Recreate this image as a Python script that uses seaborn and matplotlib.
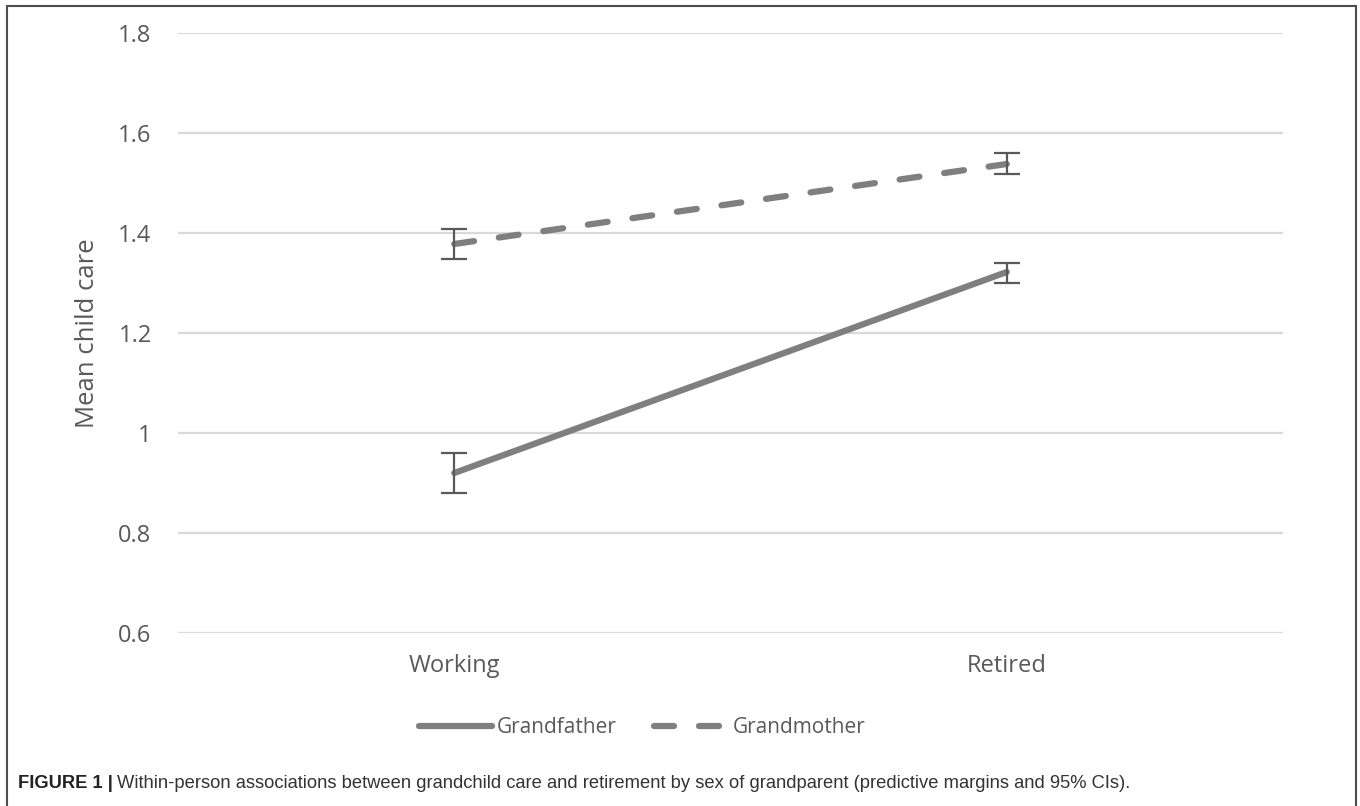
import numpy as np
import pandas as pd
import seaborn as sns
import matplotlib.pyplot as plt
from matplotlib.patches import Rectangle

# values
status = ['Working', 'Retired']
sexes = ['Grandfather', 'Grandmother']
gf_mean = [0.92, 1.322]
gf_lo = [0.88, 1.30]
gf_hi = [0.96, 1.34]
gm_mean = [1.378, 1.538]
gm_lo = [1.348, 1.518]
gm_hi = [1.408, 1.56]
y_ticks = [0.6, 0.8, 1.0, 1.2, 1.4, 1.6, 1.8]

caption_bold = 'FIGURE 1 |'
caption_text = ('Within-person associations between grandchild care and retirement by sex of '
                'grandparent (predictive margins and 95% CIs).')

df = pd.DataFrame({
    'status': status * 2,
    'sex': [sexes[0]] * 2 + [sexes[1]] * 2,
    'care': gf_mean + gm_mean,
    'lo': gf_lo + gm_lo,
    'hi': gf_hi + gm_hi,
})

sns.set_theme(style='white')
plt.rcParams['font.family'] = ['Open Sans', 'DejaVu Sans']
plt.rcParams['lines.dash_capstyle'] = 'round'
plt.rcParams['lines.solid_capstyle'] = 'round'

text_grey = '#595959'
line_grey = '#7f7f7f'

fig = plt.figure(figsize=(13.6, 8.06), dpi=100)
ax = fig.add_axes([178 / 1360, 173 / 806, 1105 / 1360, 600 / 806])

sns.lineplot(data=df, x='status', y='care', hue='sex', style='sex',
             palette={sexes[0]: line_grey, sexes[1]: line_grey},
             dashes={sexes[0]: '', sexes[1]: (3.2, 4.0)},
             linewidth=4.5, ax=ax, legend=True, sort=False)

handles, labels = ax.get_legend_handles_labels()
ax.get_legend().remove()

# confidence intervals
for _, row in df.iterrows():
    err = [[row['care'] - row['lo']], [row['hi'] - row['care']]]
    ax.errorbar([row['status']], [row['care']], yerr=err, fmt='none',
                ecolor=text_grey, elinewidth=1.6, capsize=9.5, capthick=1.6, zorder=3)

ax.set_xlim(-0.5, 1.5)
ax.set_ylim(0.6, 1.8)
ax.set_yticks(y_ticks)
ax.yaxis.set_major_formatter(plt.FuncFormatter(lambda v, _: f'{v:g}'))
ax.grid(axis='y', color='#d9d9d9', linewidth=1.6)
ax.set_axisbelow(True)
for s in ax.spines.values():
    s.set_visible(False)
ax.tick_params(axis='both', length=0, labelsize=17, labelcolor=text_grey)
ax.tick_params(axis='y', pad=19)
ax.tick_params(axis='x', pad=15)
ax.set_xlabel('')
ax.set_ylabel('Mean child care', fontsize=18.5, color=text_grey)
ax.yaxis.set_label_coords(-0.0706, 0.5)

fig.legend(handles, labels, loc='center', bbox_to_anchor=(642 / 1360, 0.097), ncol=2,
           frameon=False, handlelength=3.5, handletextpad=0.25, columnspacing=1.8,
           prop={'size': 15}, labelcolor=text_grey)

# border around the chart area
fig.add_artist(Rectangle((7 / 1360, -0.05), 1349 / 1360, 1.05 - 6 / 806,
                         transform=fig.transFigure, fill=False,
                         edgecolor='#4d4d4d', linewidth=1.5))

cap_font = ['Liberation Sans Narrow', 'Liberation Sans', 'DejaVu Sans']
t = fig.text(18 / 1360, 1 - 783 / 806, caption_bold, fontsize=13.2, fontweight='bold',
             va='center', ha='left', family=cap_font, color='#222222')
fig.canvas.draw()
bb = t.get_window_extent()
fig.text((bb.x1 + 4) / 1360, 1 - 783 / 806, caption_text, fontsize=13.2,
         va='center', ha='left', family=cap_font, color='#333333')

fig.savefig('out.png', dpi=100)
